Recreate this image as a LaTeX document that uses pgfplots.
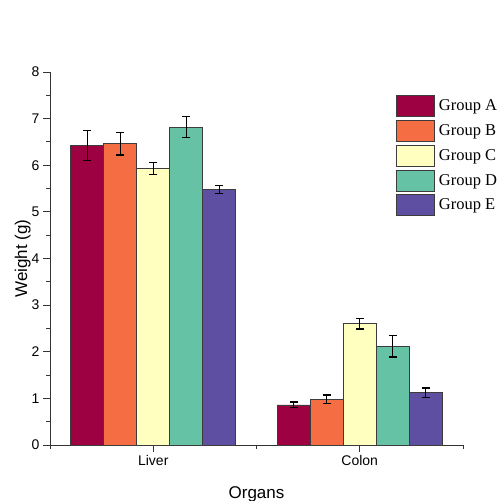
\documentclass[border=0pt]{standalone}
\usepackage{fontspec}
\setmainfont{Liberation Sans}
\newfontfamily\timesfont{Liberation Serif}
\usepackage{pgfplots}
\pgfplotsset{compat=1.18}
\definecolor{cA}{RGB}{158,1,66}
\definecolor{cB}{RGB}{244,109,67}
\definecolor{cC}{RGB}{255,255,191}
\definecolor{cD}{RGB}{102,194,165}
\definecolor{cE}{RGB}{94,79,162}
\definecolor{edge}{RGB}{60,60,60}
\begin{document}
\begin{tikzpicture}
\useasboundingbox (0,0) rectangle (501pt,501pt);
\begin{axis}[
  at={(50pt,56pt)}, anchor=south west,
  scale only axis, width=413pt, height=373pt,
  ybar=0pt, bar width=33pt,
  xmin=0.5, xmax=2.5, ymin=0, ymax=8,
  xtick={1,2}, xticklabels={Liver,Colon},
  minor xtick={0.5,1.5,2.5},
  ytick={0,1,...,8}, minor ytick={0.5,1.5,...,7.5},
  axis x line*=bottom, axis y line*=left,
  axis line style={black!80, line width=0.9pt},
  tick align=outside,
  major tick length=7pt, minor tick length=4pt,
  every tick/.style={black!80, line width=0.9pt},
  tick label style={font=\fontsize{14}{16}\selectfont},
  /pgf/number format/assume math mode=true,
  every axis y label/.style={at={(axis description cs:-0.066,0.5)}, rotate=90, anchor=center, font=\fontsize{17}{19}\selectfont},
  every axis x label/.style={at={(axis description cs:0.5,-0.11)}, anchor=north, inner sep=0pt, font=\fontsize{17}{19}\selectfont},
  xlabel={Organs}, ylabel={Weight (g)},
  legend style={at={(axis description cs:0.838,0.938)}, anchor=north west, draw=none, fill=none,
    inner sep=0pt, outer sep=0pt,
    font=\timesfont\fontsize{16.5}{18}\selectfont, row sep=3pt, column sep=4pt,
    nodes={inner sep=0pt}},
  legend cell align=left,
  legend image code/.code={\draw[#1] (0pt,-10.5pt) rectangle (38pt,10.5pt);},
  every axis plot/.append style={draw=edge, line width=0.8pt},
  error bars/error bar style={black, line width=1.4pt},
  error bars/error mark options={rotate=90, mark size=4pt, line width=1.4pt, black},
]
\addplot[fill=cA, error bars/.cd, y dir=both, y explicit] coordinates {(1,6.42) +- (0,0.32) (2,0.86) +- (0,0.06)};
\addplot[fill=cB, error bars/.cd, y dir=both, y explicit] coordinates {(1,6.46) +- (0,0.24) (2,0.98) +- (0,0.09)};
\addplot[fill=cC, error bars/.cd, y dir=both, y explicit] coordinates {(1,5.93) +- (0,0.13) (2,2.60) +- (0,0.11)};
\addplot[fill=cD, error bars/.cd, y dir=both, y explicit] coordinates {(1,6.82) +- (0,0.22) (2,2.12) +- (0,0.23)};
\addplot[fill=cE, error bars/.cd, y dir=both, y explicit] coordinates {(1,5.48) +- (0,0.09) (2,1.12) +- (0,0.10)};
\legend{Group A,Group B,Group C,Group D,Group E}
\end{axis}
\end{tikzpicture}
\end{document}
